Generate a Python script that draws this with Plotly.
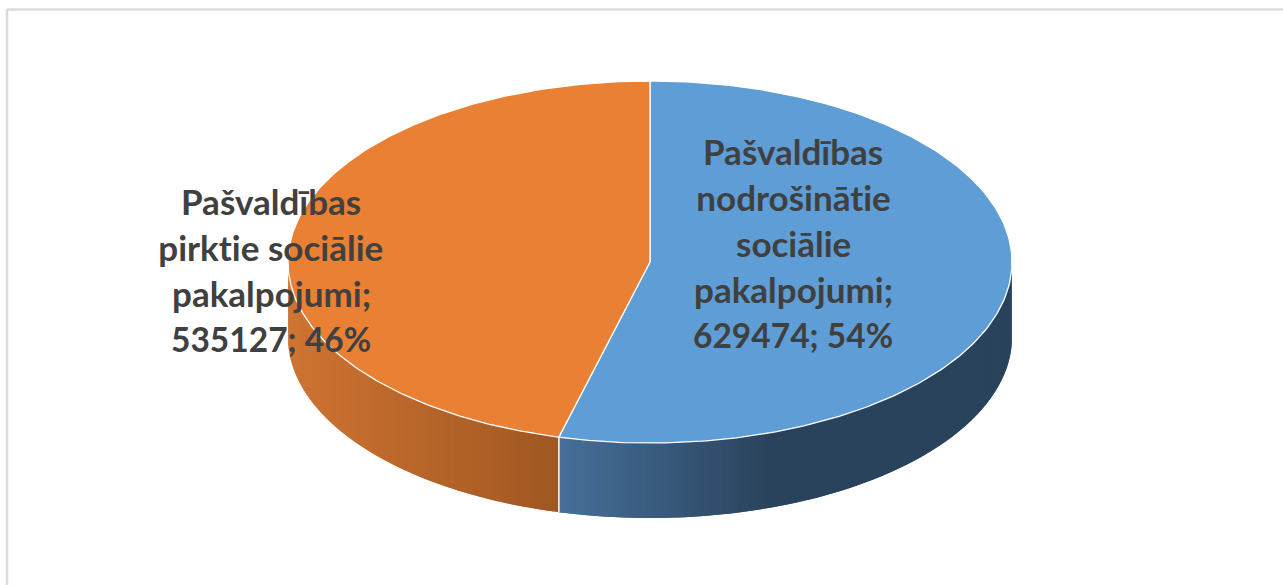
import math
import plotly.graph_objects as go

categories = ["Pašvaldības nodrošinātie sociālie pakalpojumi",
              "Pašvaldības pirktie sociālie pakalpojumi"]
values = [629474, 535127]
percent_labels = ["54%", "46%"]
label_lines = [["Pašvaldības", "nodrošinātie", "sociālie", "pakalpojumi;"],
               ["Pašvaldības", "pirktie sociālie", "pakalpojumi;"]]
top_colors = ["#5E9DD6", "#EA8034"]
# side-wall shading, as (x where it starts, colour) -> (x where it ends, colour)
blue_shade = ((558, (70, 112, 154)), (770, (42, 67, 92)))
orange_shade = ((288, (207, 116, 50)), (558, (160, 87, 34)))

W, H = 1283, 585
CX, CY, RX, RY, DEPTH = 650, 262, 362, 181, 75
LINE_GAP = 46
LABEL_POS = [(793, 151), (271, 201)]
FONT_SIZE = 35
NUMBER_FONT_SIZE = 33.5

total = sum(values)
fracs = [v / total for v in values]
start = [0, fracs[0] * 360]
end = [fracs[0] * 360, 360]


def pt(deg, dy=0):
    a = math.radians(deg)
    return CX + RX * math.sin(a), CY - RY * math.cos(a) + dy


def lin(a, b, n):
    return [a + (b - a) * i / n for i in range(n + 1)]


def shade(x, spec):
    (x0, c0), (x1, c1) = spec
    t = max(0, min(1, (x - x0) / (x1 - x0)))
    return "rgb(%d,%d,%d)" % tuple(round(c0[k] + (c1[k] - c0[k]) * t) for k in range(3))


fig = go.Figure()


def strips(a0, a1, spec, n):
    """Wall between two angles; each strip overlaps the next so no seams show."""
    angles = lin(a0, a1, n)
    for i in range(n):
        p, q = angles[i], angles[min(i + 2, n)]
        sub = lin(p, q, 4)
        upper = [pt(a) for a in sub]
        lower = [pt(a, DEPTH) for a in reversed(sub)]
        poly = upper + lower + [upper[0]]
        xm = pt(angles[i] + (angles[1] - angles[0]) / 2)[0]
        fig.add_trace(go.Scatter(
            x=[P[0] for P in poly], y=[P[1] for P in poly],
            mode="lines", fill="toself", fillcolor=shade(xm, spec),
            line=dict(width=0), hoverinfo="skip", showlegend=False))


strips(90, end[0], blue_shade, 120)
strips(end[0], 270, orange_shade, 90)

# seam on the front wall
sx, sy = pt(end[0])
fig.add_trace(go.Scatter(x=[sx, sx], y=[sy, sy + DEPTH], mode="lines",
                         line=dict(color="white", width=1.5),
                         hoverinfo="skip", showlegend=False))

# top sectors
for i in range(2):
    arc = [pt(a) for a in lin(start[i], end[i], 240)]
    xs = [CX] + [p[0] for p in arc] + [CX]
    ys = [CY] + [p[1] for p in arc] + [CY]
    fig.add_trace(go.Scatter(x=xs, y=ys, mode="lines", fill="toself",
                             fillcolor=top_colors[i],
                             line=dict(color="white", width=1.3),
                             text=categories[i], hoverinfo="text", showlegend=False))

# labels
for i in range(2):
    lines = label_lines[i] + [f"{values[i]}; {percent_labels[i]}"]
    for j, line in enumerate(lines):
        size = NUMBER_FONT_SIZE if j == len(lines) - 1 else FONT_SIZE
        fig.add_annotation(x=LABEL_POS[i][0], y=LABEL_POS[i][1] + j * LINE_GAP, text=line,
                           showarrow=False, xanchor="center", yanchor="middle",
                           font=dict(family="Lato", size=size, color="#404040", weight="bold"))

fig.update_layout(
    width=W, height=H, autosize=False, margin=dict(l=0, r=0, t=0, b=0),
    paper_bgcolor="white", plot_bgcolor="white", showlegend=False,
    xaxis=dict(range=[0, W], visible=False, fixedrange=True),
    yaxis=dict(range=[H, 0], visible=False, fixedrange=True),
    shapes=[
        dict(type="line", x0=7, x1=W, y0=9.5, y1=9.5, line=dict(color="#DCDCDC", width=2.5), layer="below"),
        dict(type="line", x0=7, x1=7, y0=9, y1=H, line=dict(color="#DCDCDC", width=2.5), layer="below"),
    ],
)
fig.write_html("out.html", config=dict(displayModeBar=False),
               post_script="document.body.style.margin='0';"
                           "var s=document.createElement('style');"
                           "s.textContent='svg text{font-variant-ligatures:none !important;"
                           "font-feature-settings:\"liga\" 0,\"clig\" 0,\"calt\" 0,\"dlig\" 0 !important;}';"
                           "document.head.appendChild(s);")
